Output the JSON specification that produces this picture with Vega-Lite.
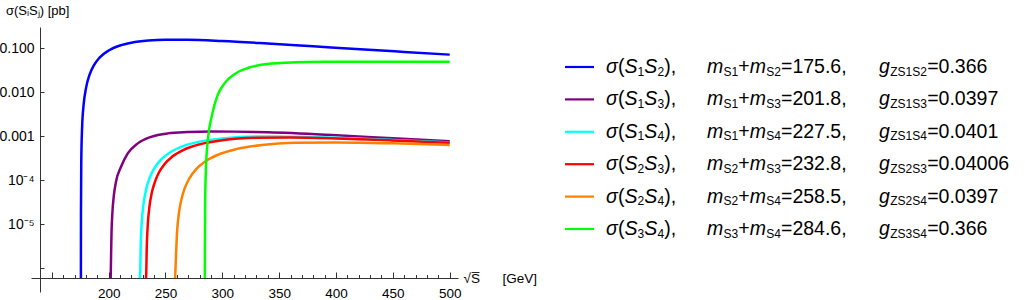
{
  "$schema": "https://vega.github.io/schema/vega-lite/v6.json",
  "background": "white",
  "padding": {"left": -2, "top": 5, "right": 0, "bottom": 0},
  "config": {
    "font": "Liberation Sans",
    "view": {"stroke": null},
    "axis": {
      "grid": false,
      "labelFont": "Liberation Sans",
      "labelColor": "black",
      "domainColor": "#333333",
      "tickColor": "#333333",
      "titleFont": "Liberation Sans",
      "titleFontWeight": "normal",
      "titleColor": "black"
    },
    "text": {"font": "Liberation Sans", "color": "black", "align": "left", "baseline": "middle"}
  },
  "datasets": {
    "curves": [
      {"pair": "S1S2", "sqrtS": 175.6, "sigma": 5.9e-7},
      {"pair": "S1S2", "sqrtS": 175.65, "sigma": 1.7e-5},
      {"pair": "S1S2", "sqrtS": 175.9, "sigma": 2.46e-4},
      {"pair": "S1S2", "sqrtS": 176.6, "sigma": 1.46e-3},
      {"pair": "S1S2", "sqrtS": 178, "sigma": 5.2e-3},
      {"pair": "S1S2", "sqrtS": 180, "sigma": 0.0121},
      {"pair": "S1S2", "sqrtS": 183, "sigma": 0.0241},
      {"pair": "S1S2", "sqrtS": 187, "sigma": 0.0409},
      {"pair": "S1S2", "sqrtS": 192, "sigma": 0.0612},
      {"pair": "S1S2", "sqrtS": 200, "sigma": 0.0891},
      {"pair": "S1S2", "sqrtS": 210, "sigma": 0.1159},
      {"pair": "S1S2", "sqrtS": 220, "sigma": 0.1343},
      {"pair": "S1S2", "sqrtS": 235, "sigma": 0.1506},
      {"pair": "S1S2", "sqrtS": 250, "sigma": 0.1566},
      {"pair": "S1S2", "sqrtS": 270, "sigma": 0.1563},
      {"pair": "S1S2", "sqrtS": 300, "sigma": 0.1467},
      {"pair": "S1S2", "sqrtS": 340, "sigma": 0.1286},
      {"pair": "S1S2", "sqrtS": 380, "sigma": 0.1109},
      {"pair": "S1S2", "sqrtS": 425, "sigma": 0.0937},
      {"pair": "S1S2", "sqrtS": 460, "sigma": 0.0827},
      {"pair": "S1S2", "sqrtS": 500, "sigma": 0.0717},

      {"pair": "S1S3", "sqrtS": 201.8, "sigma": 5.9e-7},
      {"pair": "S1S3", "sqrtS": 202.1, "sigma": 1.7e-6},
      {"pair": "S1S3", "sqrtS": 202.5, "sigma": 6.0e-6},
      {"pair": "S1S3", "sqrtS": 203.2, "sigma": 1.65e-5},
      {"pair": "S1S3", "sqrtS": 204.5, "sigma": 4.3e-5},
      {"pair": "S1S3", "sqrtS": 206.5, "sigma": 9.3e-5},
      {"pair": "S1S3", "sqrtS": 210.9, "sigma": 2.01e-4},
      {"pair": "S1S3", "sqrtS": 216.8, "sigma": 4.06e-4},
      {"pair": "S1S3", "sqrtS": 225.6, "sigma": 6.86e-4},
      {"pair": "S1S3", "sqrtS": 237.3, "sigma": 9.68e-4},
      {"pair": "S1S3", "sqrtS": 252, "sigma": 1.159e-3},
      {"pair": "S1S3", "sqrtS": 269.6, "sigma": 1.239e-3},
      {"pair": "S1S3", "sqrtS": 290, "sigma": 1.28e-3},
      {"pair": "S1S3", "sqrtS": 310, "sigma": 1.27e-3},
      {"pair": "S1S3", "sqrtS": 340, "sigma": 1.225e-3},
      {"pair": "S1S3", "sqrtS": 400, "sigma": 1.05e-3},
      {"pair": "S1S3", "sqrtS": 450, "sigma": 8.97e-4},
      {"pair": "S1S3", "sqrtS": 500, "sigma": 7.7e-4},

      {"pair": "S1S4", "sqrtS": 227.5, "sigma": 5.9e-7},
      {"pair": "S1S4", "sqrtS": 227.8, "sigma": 8.8e-7},
      {"pair": "S1S4", "sqrtS": 228.2, "sigma": 3.1e-6},
      {"pair": "S1S4", "sqrtS": 229, "sigma": 9.6e-6},
      {"pair": "S1S4", "sqrtS": 230.5, "sigma": 2.62e-5},
      {"pair": "S1S4", "sqrtS": 232.9, "sigma": 6.0e-5},
      {"pair": "S1S4", "sqrtS": 235, "sigma": 9.4e-5},
      {"pair": "S1S4", "sqrtS": 237.3, "sigma": 1.34e-4},
      {"pair": "S1S4", "sqrtS": 241, "sigma": 2.0e-4},
      {"pair": "S1S4", "sqrtS": 246, "sigma": 2.92e-4},
      {"pair": "S1S4", "sqrtS": 252, "sigma": 3.95e-4},
      {"pair": "S1S4", "sqrtS": 263.7, "sigma": 5.72e-4},
      {"pair": "S1S4", "sqrtS": 280, "sigma": 7.53e-4},
      {"pair": "S1S4", "sqrtS": 300, "sigma": 8.89e-4},
      {"pair": "S1S4", "sqrtS": 330, "sigma": 9.78e-4},
      {"pair": "S1S4", "sqrtS": 360, "sigma": 9.76e-4},
      {"pair": "S1S4", "sqrtS": 400, "sigma": 9.21e-4},
      {"pair": "S1S4", "sqrtS": 450, "sigma": 8.21e-4},
      {"pair": "S1S4", "sqrtS": 500, "sigma": 7.19e-4},

      {"pair": "S2S3", "sqrtS": 232.8, "sigma": 5.9e-7},
      {"pair": "S2S3", "sqrtS": 233.1, "sigma": 8.0e-7},
      {"pair": "S2S3", "sqrtS": 233.5, "sigma": 2.82e-6},
      {"pair": "S2S3", "sqrtS": 234.3, "sigma": 8.7e-6},
      {"pair": "S2S3", "sqrtS": 235.8, "sigma": 2.39e-5},
      {"pair": "S2S3", "sqrtS": 238, "sigma": 5.2e-5},
      {"pair": "S2S3", "sqrtS": 240.5, "sigma": 8.8e-5},
      {"pair": "S2S3", "sqrtS": 244, "sigma": 1.45e-4},
      {"pair": "S2S3", "sqrtS": 249, "sigma": 2.29e-4},
      {"pair": "S2S3", "sqrtS": 256, "sigma": 3.44e-4},
      {"pair": "S2S3", "sqrtS": 266, "sigma": 4.9e-4},
      {"pair": "S2S3", "sqrtS": 280, "sigma": 6.52e-4},
      {"pair": "S2S3", "sqrtS": 300, "sigma": 8.06e-4},
      {"pair": "S2S3", "sqrtS": 330, "sigma": 9.16e-4},
      {"pair": "S2S3", "sqrtS": 360, "sigma": 9.31e-4},
      {"pair": "S2S3", "sqrtS": 400, "sigma": 8.9e-4},
      {"pair": "S2S3", "sqrtS": 450, "sigma": 8.01e-4},
      {"pair": "S2S3", "sqrtS": 500, "sigma": 7.06e-4},

      {"pair": "S2S4", "sqrtS": 258.5, "sigma": 5.9e-7},
      {"pair": "S2S4", "sqrtS": 259.2, "sigma": 1.8e-6},
      {"pair": "S2S4", "sqrtS": 260, "sigma": 5.55e-6},
      {"pair": "S2S4", "sqrtS": 261.5, "sigma": 1.53e-5},
      {"pair": "S2S4", "sqrtS": 264, "sigma": 3.63e-5},
      {"pair": "S2S4", "sqrtS": 267, "sigma": 6.61e-5},
      {"pair": "S2S4", "sqrtS": 271, "sigma": 1.097e-4},
      {"pair": "S2S4", "sqrtS": 277, "sigma": 1.783e-4},
      {"pair": "S2S4", "sqrtS": 285, "sigma": 2.67e-4},
      {"pair": "S2S4", "sqrtS": 296, "sigma": 3.77e-4},
      {"pair": "S2S4", "sqrtS": 312, "sigma": 5.07e-4},
      {"pair": "S2S4", "sqrtS": 335, "sigma": 6.28e-4},
      {"pair": "S2S4", "sqrtS": 365, "sigma": 7.05e-4},
      {"pair": "S2S4", "sqrtS": 400, "sigma": 7.23e-4},
      {"pair": "S2S4", "sqrtS": 450, "sigma": 6.89e-4},
      {"pair": "S2S4", "sqrtS": 500, "sigma": 6.28e-4},

      {"pair": "S3S4", "sqrtS": 284.6, "sigma": 5.9e-7},
      {"pair": "S3S4", "sqrtS": 284.65, "sigma": 2.1e-6},
      {"pair": "S3S4", "sqrtS": 284.9, "sigma": 3.1e-5},
      {"pair": "S3S4", "sqrtS": 285.6, "sigma": 1.9e-4},
      {"pair": "S3S4", "sqrtS": 287, "sigma": 7.0e-4},
      {"pair": "S3S4", "sqrtS": 288.5, "sigma": 1.5e-3},
      {"pair": "S3S4", "sqrtS": 290.1, "sigma": 2.4e-3},
      {"pair": "S3S4", "sqrtS": 292, "sigma": 4.0e-3},
      {"pair": "S3S4", "sqrtS": 294.5, "sigma": 6.8e-3},
      {"pair": "S3S4", "sqrtS": 297, "sigma": 0.0100},
      {"pair": "S3S4", "sqrtS": 300.4, "sigma": 0.0140},
      {"pair": "S3S4", "sqrtS": 304, "sigma": 0.0185},
      {"pair": "S3S4", "sqrtS": 309.1, "sigma": 0.0240},
      {"pair": "S3S4", "sqrtS": 315, "sigma": 0.0300},
      {"pair": "S3S4", "sqrtS": 323.7, "sigma": 0.0365},
      {"pair": "S3S4", "sqrtS": 334, "sigma": 0.0420},
      {"pair": "S3S4", "sqrtS": 344.3, "sigma": 0.0452},
      {"pair": "S3S4", "sqrtS": 364.8, "sigma": 0.0480},
      {"pair": "S3S4", "sqrtS": 390, "sigma": 0.0493},
      {"pair": "S3S4", "sqrtS": 420, "sigma": 0.0497},
      {"pair": "S3S4", "sqrtS": 450, "sigma": 0.0496},
      {"pair": "S3S4", "sqrtS": 475, "sigma": 0.0494},
      {"pair": "S3S4", "sqrtS": 500, "sigma": 0.0492}
    ],
    "pairs": [
      {"pair": "S1S2", "i": "1", "j": "2", "mass": "175.6", "coupling": "0.366"},
      {"pair": "S1S3", "i": "1", "j": "3", "mass": "201.8", "coupling": "0.0397"},
      {"pair": "S1S4", "i": "1", "j": "4", "mass": "227.5", "coupling": "0.0401"},
      {"pair": "S2S3", "i": "2", "j": "3", "mass": "232.8", "coupling": "0.04006"},
      {"pair": "S2S4", "i": "2", "j": "4", "mass": "258.5", "coupling": "0.0397"},
      {"pair": "S3S4", "i": "3", "j": "4", "mass": "284.6", "coupling": "0.366"}
    ]
  },
  "width": 427,
  "height": 265,
  "title": {
    "text": "σ(SᵢSⱼ) [pb]",
    "anchor": "start",
    "frame": "bounds",
    "fontSize": 13,
    "fontWeight": "normal",
    "font": "Liberation Sans",
    "offset": 9,
    "dx": 7
  },
  "resolve": {"scale": {"y": "independent"}},
  "layer": [
    {
      "data": {"name": "curves"},
      "mark": {"type": "line", "strokeWidth": 2.5, "interpolate": "monotone", "clip": true},
      "encoding": {
        "x": {
          "field": "sqrtS",
          "type": "quantitative",
          "scale": {"domain": [131.7, 507.3], "nice": false, "zero": false},
          "axis": {
            "title": "√S̅\u00a0\u00a0\u00a0\u00a0\u00a0\u00a0[GeV]",
            "titleFontSize": 13.5,
            "titleAnchor": "start",
            "titleAlign": "left",
            "titleBaseline": "middle",
            "titleX": 432,
            "titleY": 0,
            "offset": -14,
            "values": [140, 150, 160, 170, 180, 190, 200, 210, 220, 230, 240, 250, 260, 270, 280, 290, 300, 310, 320, 330, 340, 350, 360, 370, 380, 390, 400, 410, 420, 430, 440, 450, 460, 470, 480, 490, 500],
            "labelExpr": "datum.value >= 200 && datum.value % 50 == 0 ? format(datum.value, 'd') : ''",
            "labelFontSize": 13.5,
            "tickSize": {"condition": {"test": "datum.value % 50 == 0", "value": -6}, "value": -3.5},
            "labelPadding": {"condition": {"test": "datum.value % 50 == 0", "value": 14}, "value": 12},
            "labelFlush": false
          }
        },
        "y": {
          "field": "sigma",
          "type": "quantitative",
          "scale": {"type": "log", "domain": [2.85e-7, 0.305], "nice": false},
          "axis": {
            "title": null,
            "offset": -9,
            "values": [1e-6, 1e-5, 1e-4, 1e-3, 1e-2, 1e-1],
            "labelExpr": "datum.value >= 0.0009 ? format(datum.value, '.3f') : datum.value >= 5e-5 ? '10⁻⁴' : datum.value >= 5e-6 ? '10⁻⁵' : ''",
            "labelFontSize": 14,
            "tickSize": -4,
            "labelPadding": 10,
            "labelFlush": false
          }
        },
        "color": {
          "field": "pair",
          "type": "nominal",
          "scale": {
            "domain": ["S1S2", "S1S3", "S1S4", "S2S3", "S2S4", "S3S4"],
            "range": ["#0000ff", "#800080", "#00ffff", "#ff0000", "#ff8000", "#00ff00"]
          },
          "legend": null
        }
      }
    },
    {
      "data": {"name": "pairs"},
      "transform": [
        {"calculate": "'S' + datum.i", "as": "subI"},
        {"calculate": "'S' + datum.j", "as": "subJ"},
        {"calculate": "'ZS' + datum.i + 'S' + datum.j", "as": "subZ"},
        {"calculate": "'=' + datum.mass + ','", "as": "massText"},
        {"calculate": "'=' + datum.coupling", "as": "couplingText"}
      ],
      "encoding": {
        "y": {
          "field": "pair",
          "type": "nominal",
          "sort": ["S1S2", "S1S3", "S1S4", "S2S3", "S2S4", "S3S4"],
          "scale": {"type": "point", "range": [40, 202], "padding": 0},
          "axis": null
        }
      },
      "layer": [
        {
          "mark": {"type": "rule", "strokeWidth": 2.2},
          "encoding": {
            "x": {"value": 534},
            "x2": {"value": 563},
            "color": {"field": "pair", "type": "nominal", "legend": null}
          }
        },
        {"mark": {"type": "text", "text": "σ", "fontStyle": "italic", "fontSize": 19.5}, "encoding": {"x": {"value": 575}}},
        {"mark": {"type": "text", "text": "(", "fontSize": 19.5}, "encoding": {"x": {"value": 587}}},
        {"mark": {"type": "text", "text": "S", "fontStyle": "italic", "fontSize": 19.5}, "encoding": {"x": {"value": 593.4}}},
        {"mark": {"type": "text", "fontSize": 12, "dy": 4.5}, "encoding": {"x": {"value": 606.6}, "text": {"field": "i"}}},
        {"mark": {"type": "text", "text": "S", "fontStyle": "italic", "fontSize": 19.5}, "encoding": {"x": {"value": 613.3}}},
        {"mark": {"type": "text", "fontSize": 12, "dy": 4.5}, "encoding": {"x": {"value": 626.5}, "text": {"field": "j"}}},
        {"mark": {"type": "text", "text": "),", "fontSize": 19.5}, "encoding": {"x": {"value": 633.2}}},
        {"mark": {"type": "text", "text": "m", "fontStyle": "italic", "fontSize": 19.5}, "encoding": {"x": {"value": 676}}},
        {"mark": {"type": "text", "fontSize": 12, "dy": 4.5}, "encoding": {"x": {"value": 692.4}, "text": {"field": "subI"}}},
        {"mark": {"type": "text", "text": "+", "fontSize": 19.5}, "encoding": {"x": {"value": 707.3}}},
        {"mark": {"type": "text", "text": "m", "fontStyle": "italic", "fontSize": 19.5}, "encoding": {"x": {"value": 718.8}}},
        {"mark": {"type": "text", "fontSize": 12, "dy": 4.5}, "encoding": {"x": {"value": 735.2}, "text": {"field": "subJ"}}},
        {"mark": {"type": "text", "fontSize": 19.5}, "encoding": {"x": {"value": 750}, "text": {"field": "massText"}}},
        {"mark": {"type": "text", "text": "g", "fontStyle": "italic", "fontSize": 19.5}, "encoding": {"x": {"value": 848}}},
        {"mark": {"type": "text", "fontSize": 12, "dy": 4.5}, "encoding": {"x": {"value": 859.2}, "text": {"field": "subZ"}}},
        {"mark": {"type": "text", "fontSize": 19.5}, "encoding": {"x": {"value": 896.2}, "text": {"field": "couplingText"}}}
      ]
    }
  ]
}
